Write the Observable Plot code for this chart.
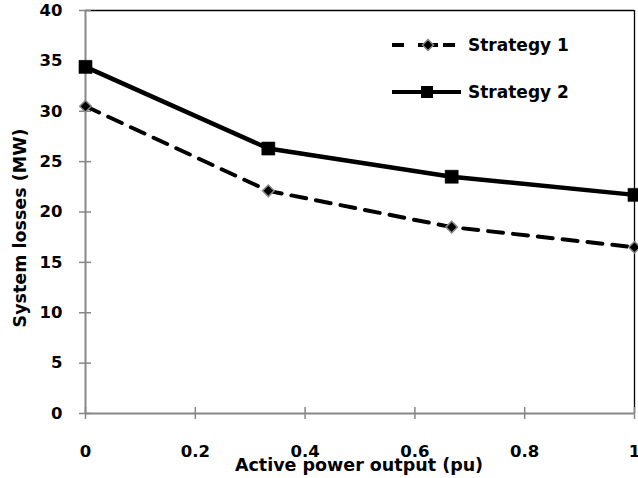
<!DOCTYPE html>
<html>
<head>
<meta charset="utf-8">
<script src="https://cdn.jsdelivr.net/npm/d3@7"></script>
<script src="https://cdn.jsdelivr.net/npm/@observablehq/plot@0.6"></script>
<style>
  html, body { margin: 0; padding: 0; background: #fff; }
  #wrap { position: relative; width: 638px; height: 478px; }
  #legend { position: absolute; left: 0; top: 0; pointer-events: none; }
</style>
</head>
<body>
<div id="wrap"></div>
<script>
// ---- data ----
const xValues = [0, 0.333, 0.667, 1];
const strategy1 = [30.5, 22.1, 18.5, 16.5];
const strategy2 = [34.4, 26.3, 23.5, 21.7];
const seriesNames = ["Strategy 1", "Strategy 2"];
const xTicks = [0, 0.2, 0.4, 0.6, 0.8, 1];
const yTicks = [0, 5, 10, 15, 20, 25, 30, 35, 40];
const xTitle = "Active power output (pu)";
const yTitle = "System losses (MW)";

const s1 = xValues.map((x, i) => ({x, y: strategy1[i]}));
const s2 = xValues.map((x, i) => ({x, y: strategy2[i]}));

const W = 638, H = 478, mL = 85, mR = 4, mT = 10, mB = 65;
const plotW = W - mL - mR, plotH = H - mT - mB;
const gray = "#878787";
const font = "DejaVu Sans";

const chart = Plot.plot({
  width: W, height: H,
  marginLeft: mL, marginRight: mR, marginTop: mT, marginBottom: mB,
  style: {fontFamily: font, fontSize: "16.5px", fontWeight: "bold", color: "#000", background: "#fff"},
  x: {domain: [0, 1]},
  y: {domain: [0, 40]},
  marks: [
    // plot area border (top/right, black)
    Plot.ruleY([40], {stroke: "#000", strokeWidth: 1.3}),
    Plot.ruleX([1], {stroke: "#000", strokeWidth: 1.3}),
    // axis lines (gray)
    Plot.ruleX([0], {stroke: gray, strokeWidth: 2}),
    Plot.ruleY([0], {stroke: gray, strokeWidth: 2}),
    // cross ticks
    Plot.tickY(yTicks, {y: d => d, stroke: gray, strokeWidth: 1.5, insetLeft: -6, insetRight: plotW - 6}),
    Plot.tickX(xTicks, {x: d => d, stroke: gray, strokeWidth: 1.5, insetTop: plotH - 6, insetBottom: -6}),
    // axes labels
    Plot.axisY({ticks: yTicks, tickSize: 0, tickPadding: 23, label: null, fontSize: 16.5}),
    Plot.axisX({ticks: xTicks, tickSize: 0, tickPadding: 32, label: null, fontSize: 16.5, tickFormat: d => String(d)}),
    Plot.text([yTitle], {frameAnchor: "left", textAnchor: "middle", lineAnchor: "middle", rotate: -90, dx: -65, dy: 16, fontSize: 17.5, fontWeight: "bold", fill: "#000"}),
    Plot.text([xTitle], {frameAnchor: "bottom", textAnchor: "middle", lineAnchor: "middle", dy: 52, dx: -1, fontSize: 17.5, fontWeight: "bold", fill: "#000"}),
    // series
    Plot.line(s1, {x: "x", y: "y", stroke: "#000", strokeWidth: 4, strokeDasharray: "15,10"}),
    Plot.line(s2, {x: "x", y: "y", stroke: "#000", strokeWidth: 4.5}),
    Plot.dot(s1, {x: "x", y: "y", symbol: "diamond2", r: 5.2, fill: "#000", stroke: gray, strokeWidth: 1.5}),
    Plot.dot(s2, {x: "x", y: "y", symbol: "square", r: 7.4, fill: "#000", stroke: "#000", strokeWidth: 0.5})
  ]
});
document.getElementById("wrap").appendChild(chart);

// legend overlay
const ns = "http://www.w3.org/2000/svg";
const leg = document.createElementNS(ns, "svg");
leg.setAttribute("id", "legend");
leg.setAttribute("width", W);
leg.setAttribute("height", H);
leg.innerHTML = `
  <g font-family="${font}" font-weight="bold" font-size="17px" fill="#000">
    <line x1="392" y1="45" x2="404" y2="45" stroke="#000" stroke-width="4"/>
    <line x1="418" y1="45" x2="438" y2="45" stroke="#000" stroke-width="4"/>
    <line x1="443" y1="45" x2="455" y2="45" stroke="#000" stroke-width="4"/>
    <path d="M428,39.5 L433.5,45 L428,50.5 L422.5,45 Z" fill="#000" stroke="${gray}" stroke-width="1.5"/>
    <text x="468" y="45" dy="0.36em">${seriesNames[0]}</text>
    <line x1="392" y1="92" x2="461" y2="92" stroke="#000" stroke-width="4"/>
    <rect x="421" y="86" width="12" height="12" fill="#000"/>
    <text x="468" y="92" dy="0.36em">${seriesNames[1]}</text>
  </g>`;
document.getElementById("wrap").appendChild(leg);
</script>
</body>
</html>
